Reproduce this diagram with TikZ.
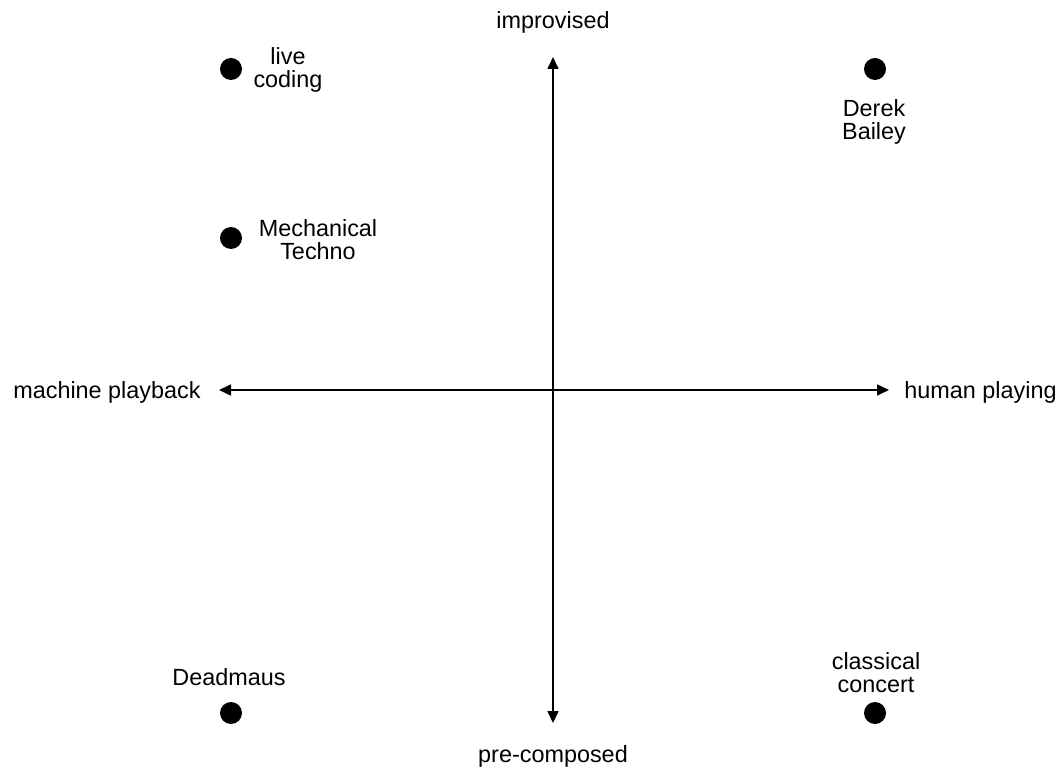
\documentclass[tikz,border=0pt]{standalone}
\usepackage{fontspec}
\setmainfont{Liberation Sans}
\usetikzlibrary{arrows.meta}
\begin{document}
\begin{tikzpicture}[x=0.5pt,y=-0.5pt,
  lbl/.style={font=\fontsize{11.7}{11.5}\selectfont, align=center, inner sep=0pt},
  dot/.style={circle, fill=black, minimum size=11pt, inner sep=0pt},
  axis/.style={line width=0.8pt, {Triangle[length=6pt,width=5.5pt]}-{Triangle[length=6pt,width=5.5pt]}}]
  \useasboundingbox (0,0) rectangle (1059,769);

  % axis end points
  \coordinate (top) at (553,57);
  \coordinate (bottom) at (553,723);
  \coordinate (left) at (219,390);
  \coordinate (right) at (889,390);
  \draw[axis] (bottom) -- (top);
  \draw[axis] (left) -- (right);

  % axis labels
  \node[lbl] (improvised) at (553,22) {improvised};
  \node[lbl] (precomposed) at (553,756) {pre-composed};
  \node[lbl, anchor=east] (machine) at (201,392) {machine playback};
  \node[lbl, anchor=west] (human) at (904,392) {human playing};

  % examples
  \node[dot] (livecoding) at (231,69) {};
  \node[lbl] (livecodingtext) at (288,70) {live\\coding};

  \node[dot] (techno) at (231,238) {};
  \node[lbl] (technotext) at (318,240) {Mechanical\\Techno};

  \node[dot] (bailey) at (875,69) {};
  \node[lbl] (baileytext) at (874,122) {Derek\\Bailey};

  \node[dot] (deadmaus) at (231,713) {};
  \node[lbl] (deadmaustext) at (229,677) {Deadmaus};

  \node[dot] (classical) at (875,713) {};
  \node[lbl] (classicaltext) at (876,673) {classical\\concert};
\end{tikzpicture}
\end{document}
